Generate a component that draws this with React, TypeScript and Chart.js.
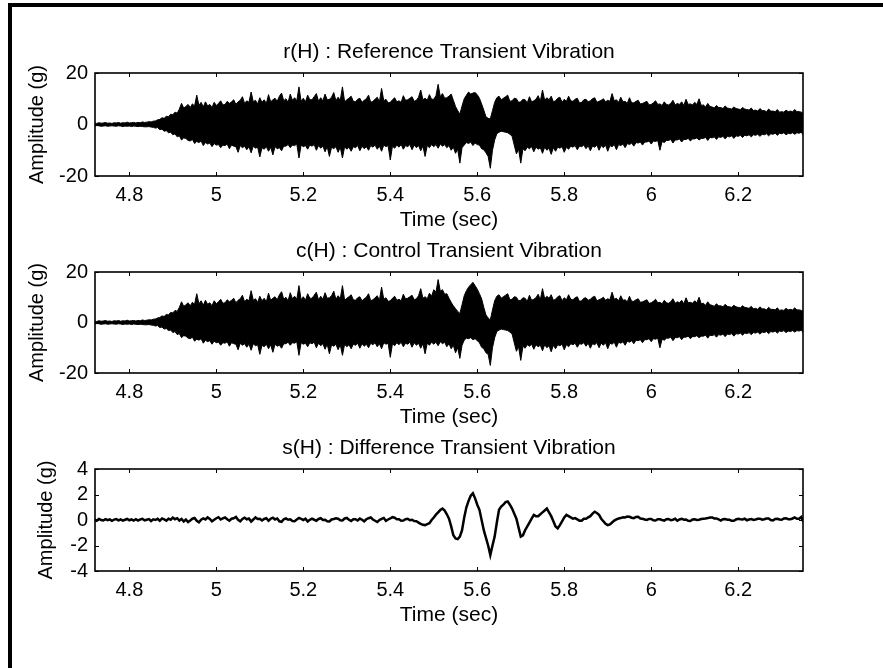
import React, { useEffect, useRef } from 'react';
import { Chart, registerables } from 'chart.js';

Chart.register(...registerables);

// ---- data (g), sampled every 0.005 s starting at 4.72 s (rows of 0.1 s) ----
const T_START = 4.72;
const T_STEP = 0.005;

const X_TICKS = [4.8, 5, 5.2, 5.4, 5.6, 5.8, 6, 6.2];
const Y_TICKS_BIG = [-20, 0, 20];
const Y_TICKS_SMALL = [-4, -2, 0, 2, 4];

const TITLES = [
  'r(H) : Reference Transient Vibration',
  'c(H) : Control Transient Vibration',
  's(H) : Difference Transient Vibration',
];

// Reference: upper / lower envelope of the vibration trace
const REF_UP = [
  0.6, 0.4, 0.7, 0.5, 0.6, 0.8, 0.5, 0.6, 0.4, 0.7, 0.6, 0.8, 0.5, 0.7, 0.6, 0.9, 0.6, 0.7, 0.8, 0.6,
  0.8, 0.7, 1.0, 0.8, 0.9, 1.1, 1.0, 1.3, 1.4, 1.8, 2.0, 2.6, 2.4, 3.2, 3.0, 4.0, 3.8, 4.8, 4.4, 6.0,
  8.2, 6.4, 7.0, 7.8, 6.6, 8.0, 7.2, 11.4, 7.4, 8.6, 6.8, 8.8, 7.2, 7.8, 6.6, 8.6, 7.4, 8.2, 9.2, 7.6,
  7.8, 9.0, 8.2, 8.8, 9.6, 7.8, 8.8, 9.4, 10.8, 8.2, 9.2, 8.6, 12.6, 8.8, 9.4, 8.0, 10.4, 8.6, 9.6, 8.2,
  11.6, 8.8, 9.6, 10.2, 9.0, 11.0, 12.2, 9.2, 10.0, 8.6, 11.8, 9.4, 10.4, 9.2, 14.6, 9.0, 10.2, 8.8, 11.4, 9.6,
  9.6, 10.8, 12.0, 9.0, 10.4, 9.2, 11.8, 9.6, 9.8, 10.6, 12.4, 9.2, 10.6, 9.4, 14.6, 8.8, 9.6, 10.2, 11.0, 9.0,
  8.8, 9.8, 10.2, 8.6, 9.4, 10.0, 11.4, 8.6, 9.0, 9.8, 10.6, 8.8, 14.0, 9.2, 9.8, 8.4, 8.6, 9.6, 10.4, 8.8,
  9.2, 8.6, 11.2, 9.4, 9.6, 10.2, 10.8, 9.0, 9.4, 10.6, 13.4, 9.6, 10.2, 9.4, 11.6, 9.8, 9.8, 11.2, 15.6, 10.8,
  12.0, 10.2, 10.4, 11.0, 11.8, 9.4, 7.0, 5.4, 4.0, 7.2, 10.0, 11.4, 12.6, 11.8, 12.2, 12.4, 11.6, 10.2, 8.0, 5.6,
  3.0, 2.4, 2.2, 5.4, 8.6, 10.4, 11.0, 9.6, 10.2, 10.8, 11.4, 9.0, 9.2, 10.2, 10.0, 8.6, 8.8, 9.8, 9.6, 8.4,
  10.8, 8.8, 9.2, 9.8, 11.2, 9.0, 13.4, 9.4, 10.4, 9.6, 11.0, 8.8, 9.2, 10.2, 10.6, 8.6, 9.8, 9.0, 11.0, 9.2,
  9.0, 9.8, 10.2, 8.4, 8.6, 9.6, 9.8, 8.8, 9.2, 10.0, 10.4, 8.6, 9.0, 9.4, 10.0, 8.8, 9.4, 9.0, 12.0, 9.2,
  9.6, 8.6, 10.6, 8.8, 9.0, 8.2, 10.4, 8.4, 8.4, 9.0, 9.4, 8.0, 8.2, 8.6, 9.0, 7.6, 7.8, 8.4, 9.2, 7.8,
  8.0, 7.4, 8.8, 7.8, 7.6, 8.2, 9.4, 7.6, 8.2, 7.8, 8.8, 7.4, 9.8, 7.8, 8.0, 7.6, 8.6, 7.8, 10.0, 7.4,
  7.6, 6.8, 8.2, 7.0, 6.8, 6.4, 7.4, 6.6, 6.6, 6.2, 7.2, 6.4, 6.2, 6.0, 6.8, 6.2, 6.0, 5.8, 6.6, 6.0,
  5.8, 5.6, 6.4, 5.4, 5.6, 5.2, 6.2, 5.4, 5.4, 5.0, 6.0, 5.2, 5.2, 5.0, 5.8, 4.8, 5.0, 4.8, 5.6, 5.0,
  5.2, 5.0, 5.8, 5.0, 5.0, 4.8, 4.4,
];
const REF_LO = [
  -0.6, -0.4, -0.5, -0.7, -0.6, -0.5, -0.7, -0.6, -0.5, -0.6, -0.7, -0.5, -0.6, -0.8, -0.6, -0.7, -0.6, -0.8, -0.6, -0.7,
  -0.8, -0.7, -0.8, -0.9, -0.9, -0.8, -1.0, -1.1, -1.4, -1.2, -2.0, -1.8, -2.6, -2.4, -3.2, -3.0, -4.0, -3.6, -4.8, -4.4,
  -6.0, -5.2, -5.4, -6.2, -6.4, -5.8, -7.4, -6.6, -7.0, -6.4, -8.2, -7.0, -7.6, -7.2, -8.6, -7.4, -8.0, -7.8, -9.0, -8.0,
  -8.2, -7.6, -9.4, -8.0, -8.4, -8.6, -10.8, -8.2, -9.0, -8.4, -9.8, -8.6, -11.0, -8.4, -9.2, -8.8, -12.6, -9.0, -9.6, -8.6,
  -10.4, -8.8, -11.8, -8.6, -9.4, -9.0, -10.2, -8.4, -8.4, -7.8, -9.0, -8.0, -8.2, -7.6, -13.0, -8.0, -8.6, -8.2, -9.6, -8.0,
  -8.4, -7.8, -10.0, -8.2, -9.2, -8.4, -10.6, -8.6, -12.4, -8.8, -9.4, -8.6, -10.8, -8.8, -13.0, -8.6, -9.6, -8.8, -10.4, -8.6,
  -9.0, -8.2, -10.2, -8.4, -9.4, -8.6, -10.0, -8.2, -8.8, -8.0, -9.6, -8.4, -10.4, -8.0, -8.6, -8.2, -13.8, -8.4, -9.2, -8.0,
  -8.8, -7.8, -9.6, -8.2, -8.6, -7.8, -9.8, -8.0, -9.0, -8.2, -10.2, -8.4, -12.4, -8.2, -9.0, -7.8, -8.6, -7.8, -9.2, -7.6,
  -8.4, -7.8, -9.0, -8.2, -10.0, -8.8, -11.2, -9.6, -15.0, -9.0, -8.0, -7.0, -7.4, -6.8, -8.2, -7.2, -7.8, -8.0, -9.4, -9.8,
  -11.0, -12.4, -17.0, -10.0, -6.0, -3.6, -3.0, -2.6, -2.8, -3.0, -3.2, -3.8, -4.5, -8.0, -11.4, -9.6, -15.0, -9.4, -10.2, -8.8,
  -9.4, -8.6, -10.6, -8.8, -9.6, -9.0, -11.2, -8.8, -10.0, -9.2, -11.6, -9.0, -10.4, -8.8, -9.2, -8.6, -10.8, -8.8, -9.6, -8.4,
  -8.8, -8.2, -9.8, -8.4, -8.6, -8.0, -9.4, -8.2, -10.2, -8.4, -8.8, -8.0, -10.0, -8.2, -9.0, -8.0, -10.4, -8.2, -8.6, -7.8,
  -9.8, -7.8, -8.2, -7.6, -9.0, -7.4, -7.8, -7.2, -8.4, -7.0, -7.2, -6.8, -8.0, -6.8, -6.8, -6.4, -7.6, -6.4, -6.6, -6.2,
  -10.0, -6.6, -7.0, -6.2, -6.2, -5.8, -7.2, -6.0, -6.0, -5.6, -6.8, -5.8, -5.8, -5.4, -6.4, -5.6, -5.6, -5.2, -6.0, -5.4,
  -5.4, -5.0, -6.2, -5.0, -5.2, -4.8, -5.8, -4.8, -5.0, -4.6, -5.6, -4.6, -4.8, -4.4, -5.4, -4.4, -4.6, -4.2, -5.0, -4.2,
  -4.4, -4.0, -4.8, -4.0, -4.2, -3.8, -4.6, -3.8, -4.0, -3.6, -4.4, -3.6, -3.8, -3.4, -4.2, -3.4, -3.6, -3.2, -4.0, -3.4,
  -3.6, -3.2, -3.8, -3.2, -3.4, -3.0, -4.2,
];

// Control: upper / lower envelope
const CTRL_UP = [
  0.6, 0.4, 0.7, 0.5, 0.6, 0.8, 0.5, 0.6, 0.4, 0.7, 0.6, 0.8, 0.5, 0.7, 0.6, 0.9, 0.6, 0.7, 0.8, 0.6,
  0.8, 0.7, 1.0, 0.8, 0.9, 1.1, 1.0, 1.3, 1.4, 1.8, 2.0, 2.6, 2.4, 3.2, 3.0, 4.0, 3.8, 4.8, 4.4, 6.0,
  8.2, 6.4, 7.0, 7.8, 6.6, 8.0, 7.2, 11.4, 7.4, 8.6, 6.8, 8.8, 7.2, 7.8, 6.6, 8.6, 7.4, 8.2, 9.2, 7.6,
  7.8, 9.0, 8.2, 8.8, 9.6, 7.8, 8.8, 9.4, 10.8, 8.2, 9.2, 8.6, 12.6, 8.8, 9.4, 8.0, 10.4, 8.6, 9.6, 8.2,
  11.6, 8.8, 9.6, 10.2, 9.0, 11.0, 12.2, 9.2, 10.0, 8.6, 11.8, 9.4, 10.4, 9.2, 14.6, 9.0, 10.2, 8.8, 11.4, 9.6,
  9.6, 10.8, 12.0, 9.0, 10.4, 9.2, 11.8, 9.6, 9.8, 10.6, 12.4, 9.2, 10.6, 9.4, 14.6, 8.8, 9.6, 10.2, 11.0, 9.0,
  8.8, 9.8, 10.2, 8.6, 9.4, 10.0, 11.4, 8.6, 9.0, 9.8, 10.6, 8.8, 14.0, 9.2, 9.8, 8.4, 8.6, 9.6, 10.4, 8.8,
  9.2, 8.6, 11.2, 9.4, 9.6, 10.2, 10.8, 9.0, 9.4, 10.6, 13.4, 9.6, 10.2, 9.4, 11.6, 10.4, 13.0, 12.0, 17.0, 12.4,
  13.0, 11.2, 11.4, 9.6, 8.0, 6.6, 5.5, 4.4, 3.6, 7.0, 10.6, 12.6, 14.0, 15.0, 15.9, 14.6, 13.2, 11.4, 9.4, 6.0,
  3.0, 1.8, 1.0, 5.0, 8.6, 10.4, 11.0, 9.6, 10.2, 10.8, 11.4, 9.0, 9.2, 10.2, 10.0, 8.6, 8.8, 9.8, 9.6, 8.4,
  10.8, 8.8, 9.2, 9.8, 11.2, 9.0, 13.4, 9.4, 10.4, 9.6, 11.0, 8.8, 9.2, 10.2, 10.6, 8.6, 9.8, 9.0, 11.0, 9.2,
  9.0, 9.8, 10.2, 8.4, 8.6, 9.6, 9.8, 8.8, 9.2, 10.0, 10.4, 8.6, 9.0, 9.4, 10.0, 8.8, 9.4, 9.0, 12.0, 9.2,
  9.6, 8.6, 10.6, 8.8, 9.0, 8.2, 10.4, 8.4, 8.4, 9.0, 9.4, 8.0, 8.2, 8.6, 9.0, 7.6, 7.8, 8.4, 9.2, 7.8,
  8.0, 7.4, 8.8, 7.8, 7.6, 8.2, 9.4, 7.6, 8.2, 7.8, 8.8, 7.4, 9.8, 7.8, 8.0, 7.6, 8.6, 7.8, 10.0, 7.4,
  7.6, 6.8, 8.2, 7.0, 6.8, 6.4, 7.4, 6.6, 6.6, 6.2, 7.2, 6.4, 6.2, 6.0, 6.8, 6.2, 6.0, 5.8, 6.6, 6.0,
  5.8, 5.6, 6.4, 5.4, 5.6, 5.2, 6.2, 5.4, 5.4, 5.0, 6.0, 5.2, 5.2, 5.0, 5.8, 4.8, 5.0, 4.8, 5.6, 5.0,
  5.2, 5.0, 5.8, 5.0, 5.0, 4.8, 4.4,
];
const CTRL_LO = [
  -0.6, -0.4, -0.5, -0.7, -0.6, -0.5, -0.7, -0.6, -0.5, -0.6, -0.7, -0.5, -0.6, -0.8, -0.6, -0.7, -0.6, -0.8, -0.6, -0.7,
  -0.8, -0.7, -0.8, -0.9, -0.9, -0.8, -1.0, -1.1, -1.4, -1.2, -2.0, -1.8, -2.6, -2.4, -3.2, -3.0, -4.0, -3.6, -4.8, -4.4,
  -6.0, -5.2, -5.4, -6.2, -6.4, -5.8, -7.4, -6.6, -7.0, -6.4, -8.2, -7.0, -7.6, -7.2, -8.6, -7.4, -8.0, -7.8, -9.0, -8.0,
  -8.2, -7.6, -9.4, -8.0, -8.4, -8.6, -10.8, -8.2, -9.0, -8.4, -9.8, -8.6, -11.0, -8.4, -9.2, -8.8, -12.6, -9.0, -9.6, -8.6,
  -10.4, -8.8, -11.8, -8.6, -9.4, -9.0, -10.2, -8.4, -8.4, -7.8, -9.0, -8.0, -8.2, -7.6, -13.0, -8.0, -8.6, -8.2, -9.6, -8.0,
  -8.4, -7.8, -10.0, -8.2, -9.2, -8.4, -10.6, -8.6, -12.4, -8.8, -9.4, -8.6, -10.8, -8.8, -13.0, -8.6, -9.6, -8.8, -10.4, -8.6,
  -9.0, -8.2, -10.2, -8.4, -9.4, -8.6, -10.0, -8.2, -8.8, -8.0, -9.6, -8.4, -10.4, -8.0, -8.6, -8.2, -13.8, -8.4, -9.2, -8.0,
  -8.8, -7.8, -9.6, -8.2, -8.6, -7.8, -9.8, -8.0, -9.0, -8.2, -10.2, -8.4, -12.4, -8.2, -9.0, -7.8, -8.6, -7.8, -9.2, -7.6,
  -8.4, -7.8, -9.6, -8.4, -10.4, -9.0, -12.0, -10.0, -14.2, -9.0, -7.0, -6.2, -6.4, -6.0, -6.8, -6.4, -7.2, -8.0, -9.8, -10.4,
  -12.0, -12.6, -17.0, -10.0, -6.0, -3.6, -3.0, -2.6, -2.8, -3.0, -3.2, -3.8, -4.5, -8.0, -11.4, -9.6, -15.0, -9.4, -10.2, -8.8,
  -9.4, -8.6, -10.6, -8.8, -9.6, -9.0, -11.2, -8.8, -10.0, -9.2, -11.6, -9.0, -10.4, -8.8, -9.2, -8.6, -10.8, -8.8, -9.6, -8.4,
  -8.8, -8.2, -9.8, -8.4, -8.6, -8.0, -9.4, -8.2, -10.2, -8.4, -8.8, -8.0, -10.0, -8.2, -9.0, -8.0, -10.4, -8.2, -8.6, -7.8,
  -9.8, -7.8, -8.2, -7.6, -9.0, -7.4, -7.8, -7.2, -8.4, -7.0, -7.2, -6.8, -8.0, -6.8, -6.8, -6.4, -7.6, -6.4, -6.6, -6.2,
  -10.0, -6.6, -7.0, -6.2, -6.2, -5.8, -7.2, -6.0, -6.0, -5.6, -6.8, -5.8, -5.8, -5.4, -6.4, -5.6, -5.6, -5.2, -6.0, -5.4,
  -5.4, -5.0, -6.2, -5.0, -5.2, -4.8, -5.8, -4.8, -5.0, -4.6, -5.6, -4.6, -4.8, -4.4, -5.4, -4.4, -4.6, -4.2, -5.0, -4.2,
  -4.4, -4.0, -4.8, -4.0, -4.2, -3.8, -4.6, -3.8, -4.0, -3.6, -4.4, -3.6, -3.8, -3.4, -4.2, -3.4, -3.6, -3.2, -4.0, -3.4,
  -3.6, -3.2, -3.8, -3.2, -3.4, -3.0, -4.2,
];

// Difference trace
const DIFF = [
  0.04, -0.06, 0.08, 0.0, -0.04, 0.06, -0.02, 0.05, -0.06, 0.03, 0.07, -0.03, 0.04, -0.05, 0.02, 0.08, -0.02, 0.05, -0.04, 0.06,
  -0.05, 0.04, 0.09, -0.03, 0.02, 0.07, -0.08, 0.05, 0.0, 0.1, -0.06, 0.12, 0.04, -0.05, 0.1, 0.02, 0.18, 0.06, 0.14, -0.04,
  0.08, -0.12, 0.04, -0.16, -0.04, 0.1, 0.16, -0.06, -0.18, 0.02, 0.12, 0.04, 0.2, 0.08, -0.1, 0.02, 0.14, 0.22, 0.04, 0.12,
  0.2, 0.06, -0.06, 0.1, 0.14, 0.24, 0.02, -0.1, 0.08, 0.18, 0.06, 0.12, -0.12, 0.04, 0.2, 0.08, 0.1, -0.04, 0.08, 0.14,
  -0.06, 0.1, 0.18, 0.04, 0.12, -0.1, -0.14, 0.06, 0.12, 0.02, 0.06, -0.08, -0.1, 0.04, 0.16, 0.08, 0.0, 0.1, -0.12, 0.02,
  0.1, 0.02, -0.06, 0.08, 0.14, 0.0, 0.02, -0.1, -0.12, 0.04, 0.08, 0.14, 0.1, -0.02, -0.04, 0.12, 0.16, 0.02, -0.08, 0.06,
  0.06, -0.04, 0.12, 0.02, -0.1, 0.06, 0.14, 0.2, 0.04, -0.06, -0.16, 0.0, 0.08, 0.16, -0.06, 0.04, 0.12, 0.22, 0.18, 0.06,
  0.06, -0.06, -0.04, 0.06, 0.1, -0.02, 0.02, -0.08, -0.1, -0.2, -0.3, -0.38, -0.4, -0.32, -0.25, 0.0, 0.2, 0.42, 0.6, 0.78,
  0.9, 0.75, 0.45, 0.1, -0.5, -1.2, -1.45, -1.5, -1.3, -0.8, 0.2, 1.0, 1.5, 1.9, 2.1, 1.7, 1.2, 0.8, 0.0, -0.8,
  -1.4, -2.0, -2.75, -2.0, -1.3, -0.2, 0.8, 1.05, 1.2, 1.4, 1.45, 1.2, 0.9, 0.5, 0.1, -0.6, -1.3, -1.2, -0.8, -0.5,
  -0.2, 0.1, 0.4, 0.3, 0.3, 0.45, 0.6, 0.75, 0.9, 0.6, 0.3, -0.1, -0.5, -0.65, -0.4, -0.1, 0.2, 0.4, 0.3, 0.2,
  0.1, 0.15, 0.05, -0.05, -0.05, 0.1, 0.1, 0.2, 0.3, 0.5, 0.65, 0.55, 0.4, 0.1, -0.1, -0.3, -0.4, -0.35, -0.2, -0.05,
  0.05, 0.12, 0.15, 0.22, 0.2, 0.28, 0.25, 0.18, 0.15, 0.24, 0.25, 0.12, 0.1, 0.04, 0.0, 0.08, 0.08, -0.02, -0.04, 0.06,
  0.06, 0.0, -0.05, 0.06, 0.08, -0.02, 0.02, 0.1, -0.06, 0.04, 0.1, 0.02, 0.04, -0.06, -0.08, 0.04, 0.06, 0.0, 0.02, 0.08,
  0.1, 0.12, 0.15, 0.2, 0.2, 0.12, 0.12, 0.04, -0.04, 0.06, 0.08, 0.02, 0.02, -0.06, -0.06, 0.04, 0.1, 0.06, 0.04, 0.1,
  -0.02, 0.04, 0.08, 0.0, 0.04, 0.1, 0.1, 0.02, 0.06, 0.12, 0.12, 0.0, -0.04, 0.08, 0.1, 0.04, 0.02, 0.12, 0.14, 0.06,
  0.06, 0.12, 0.2, 0.1, 0.1, 0.24, -0.15,
];

const TIME = REF_UP.map((_, i) => Math.round((T_START + i * T_STEP) * 10000) / 10000);

const X_MIN = 4.721;
const X_MAX = 6.349;

const FONT = '"Liberation Sans", Arial, Helvetica, sans-serif';
const W = 883;
const TITLE_BLOCK = 73;
const XAXIS_H = 57;
const TITLE_SIZE = 21;
const TICK_SIZE = 20;

const pts = (arr: number[]) => arr.map((v, i) => ({ x: TIME[i], y: v }));

const framePlugin = {
  id: 'matlabFrame',
  afterDatasetsDraw(chart: any) {
    const { ctx, chartArea } = chart;
    const { left, right, top, bottom } = chartArea;
    const xs = chart.scales.x;
    const ys = chart.scales.y;
    ctx.save();
    ctx.strokeStyle = '#000';
    ctx.lineWidth = 1;
    ctx.beginPath();
    xs.ticks.forEach((t: any) => {
      const px = Math.round(xs.getPixelForValue(t.value)) + 0.5;
      ctx.moveTo(px, bottom);
      ctx.lineTo(px, bottom - 4);
      ctx.moveTo(px, top);
      ctx.lineTo(px, top + 4);
    });
    ys.ticks.forEach((t: any) => {
      const py = Math.round(ys.getPixelForValue(t.value)) + 0.5;
      ctx.moveTo(left, py);
      ctx.lineTo(left + 4, py);
      ctx.moveTo(right, py);
      ctx.lineTo(right - 4, py);
    });
    ctx.stroke();
    ctx.lineWidth = 1.6;
    ctx.strokeRect(left, top, right - left, bottom - top);
    ctx.restore();
  },
};

type PlotProps = {
  plotTop: number;
  plotBottom: number;
  title: string;
  yTicks: number[];
  yTitleCenter: number;
  datasets: any[];
};

function Plot({ plotTop, plotBottom, title, yTicks, yTitleCenter, datasets }: PlotProps) {
  const ref = useRef<HTMLCanvasElement | null>(null);
  const canvasTop = plotTop - TITLE_BLOCK;
  const canvasH = TITLE_BLOCK + (plotBottom - plotTop) + XAXIS_H;

  useEffect(() => {
    if (!ref.current) return;
    const titleLH = TITLE_SIZE * 1.2;
    const titlePadTop = 52 - titleLH / 2;
    const chart = new Chart(ref.current, {
      type: 'line',
      data: { datasets },
      options: {
        responsive: false,
        animation: false,
        devicePixelRatio: 1,
        layout: { padding: { left: 0, right: W - 803, top: 0, bottom: 0 } },
        elements: { point: { radius: 0 }, line: { tension: 0 } },
        plugins: {
          legend: { display: false },
          tooltip: { enabled: false },
          title: {
            display: true,
            text: title,
            fullSize: false,
            color: '#000',
            font: { family: FONT, size: TITLE_SIZE, weight: 'normal', lineHeight: 1.2 },
            padding: { top: titlePadTop, bottom: TITLE_BLOCK - titlePadTop - titleLH },
          },
        },
        scales: {
          x: {
            type: 'linear',
            min: X_MIN,
            max: X_MAX,
            grid: { display: false, drawTicks: false },
            border: { display: false },
            afterBuildTicks: (s: any) => {
              s.ticks = X_TICKS.map((v) => ({ value: v }));
            },
            afterFit: (s: any) => {
              s.height = XAXIS_H;
            },
            ticks: {
              color: '#000',
              font: { family: FONT, size: TICK_SIZE },
              padding: 7,
              maxRotation: 0,
              autoSkip: false,
              callback: (v: any) => String(Math.round(Number(v) * 10) / 10),
            },
            title: {
              display: true,
              text: 'Time (sec)',
              color: '#000',
              font: { family: FONT, size: TITLE_SIZE, lineHeight: 1.2 },
              padding: { top: 0, bottom: 0 },
            },
          },
          y: {
            type: 'linear',
            min: yTicks[0],
            max: yTicks[yTicks.length - 1],
            grid: { display: false, drawTicks: false },
            border: { display: false },
            afterBuildTicks: (s: any) => {
              s.ticks = yTicks.map((v) => ({ value: v }));
            },
            afterFit: (s: any) => {
              s.width = 95;
            },
            ticks: {
              color: '#000',
              font: { family: FONT, size: TICK_SIZE },
              padding: 7,
              autoSkip: false,
              callback: (v: any) => String(v),
            },
            title: {
              display: true,
              text: 'Amplitude (g)',
              color: '#000',
              font: { family: FONT, size: 20, lineHeight: 1.2 },
              padding: { top: yTitleCenter - 12, bottom: 0 },
            },
          },
        },
      },
      plugins: [framePlugin],
    } as any);
    return () => chart.destroy();
  }, []);

  return (
    <canvas
      ref={ref}
      width={W}
      height={canvasH}
      style={{ position: 'absolute', left: 0, top: canvasTop, width: W, height: canvasH }}
    />
  );
}

const band = (up: number[], lo: number[]) => [
  {
    data: pts(up),
    borderColor: '#000',
    backgroundColor: '#000',
    borderWidth: 1,
    pointRadius: 0,
    fill: '+1',
  },
  {
    data: pts(lo),
    borderColor: '#000',
    backgroundColor: '#000',
    borderWidth: 1,
    pointRadius: 0,
    fill: false,
  },
];

export default function App() {
  return (
    <div
      style={{
        position: 'fixed',
        left: 0,
        top: 0,
        width: W,
        height: 668,
        background: '#fff',
        overflow: 'hidden',
      }}
    >
      <div style={{ position: 'absolute', left: 8, top: 3, width: W - 8, height: 4, background: '#000' }} />
      <div style={{ position: 'absolute', left: 8, top: 3, width: 4, height: 665, background: '#000' }} />
      <Plot
        plotTop={73}
        plotBottom={176}
        title={TITLES[0]}
        yTicks={Y_TICKS_BIG}
        yTitleCenter={37}
        datasets={band(REF_UP, REF_LO)}
      />
      <Plot
        plotTop={272}
        plotBottom={373}
        title={TITLES[1]}
        yTicks={Y_TICKS_BIG}
        yTitleCenter={37}
        datasets={band(CTRL_UP, CTRL_LO)}
      />
      <Plot
        plotTop={469}
        plotBottom={571}
        title={TITLES[2]}
        yTicks={Y_TICKS_SMALL}
        yTitleCenter={46}
        datasets={[
          {
            data: pts(DIFF),
            borderColor: '#000',
            borderWidth: 2.5,
            pointRadius: 0,
            fill: false,
          },
        ]}
      />
    </div>
  );
}
